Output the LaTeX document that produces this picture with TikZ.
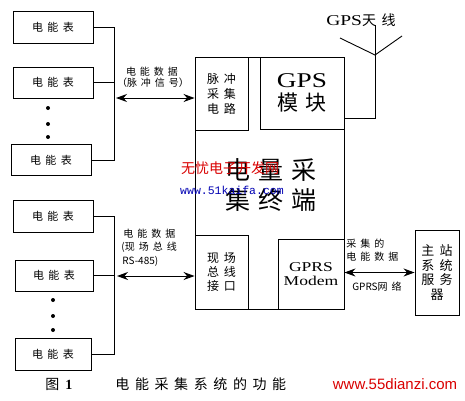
\documentclass[tikz,border=0pt]{standalone}
\usepackage{fontspec}
\setmainfont{Liberation Serif}
\newfontfamily\cjk{Noto Sans CJK SC}
\newfontfamily\wserif{Liberation Serif}[FakeStretch=1.3]
\newfontfamily\lsans{Liberation Sans}
\newfontfamily\lmono{Liberation Mono}
\usetikzlibrary{arrows.meta}
\newcommand\cgap{\hspace{0.4em}}
\newcommand\fs[1]{\fontsize{#1}{#1}\selectfont}
\begin{document}
\begin{tikzpicture}[x=1pt,y=-1pt,line width=0.9pt,
  box/.style={draw,rectangle,inner sep=0pt,align=center},
  meter/.style={box,font=\cjk\fs{11}},
  lbl/.style={inner sep=0pt,font=\cjk\fs{10}},
  dbl/.style={{Stealth[length=11pt,width=8pt]}-{Stealth[length=11pt,width=8pt]}},
  dot/.style={circle,fill,inner sep=0pt,minimum size=4pt}]
\useasboundingbox (0,0) rectangle (465,400);
% top-left meters
\node[meter,minimum width=80,minimum height=32] (m1) at (53,27) {电\cgap 能\cgap 表};
\node[meter,minimum width=80,minimum height=31] (m2) at (53,82.5) {电\cgap 能\cgap 表};
\node[meter,minimum width=80,minimum height=31] (m3) at (51,160) {电\cgap 能\cgap 表};
\node[dot] (d1) at (48,108) {};
\node[dot] (d2) at (48,124) {};
\node[dot] (d3) at (48,137) {};
\coordinate (b1) at (114,27);
\coordinate (b3) at (114,160);
\draw (m1.east) -- (b1) -- (b3) -- (m3.east);
\draw (m2.east) -- (m2.east -| b1);
% bottom-left meters
\node[meter,minimum width=80,minimum height=32] (n1) at (53,216) {电\cgap 能\cgap 表};
\node[meter,minimum width=78,minimum height=31] (n2) at (54,275.5) {电\cgap 能\cgap 表};
\node[meter,minimum width=76,minimum height=32] (n3) at (53,354) {电\cgap 能\cgap 表};
\node[dot] (e1) at (53,300) {};
\node[dot] (e2) at (53,316) {};
\node[dot] (e3) at (53,330) {};
\coordinate (c1) at (114,216);
\coordinate (c3) at (114,354);
\draw (n1.east) -- (c1) -- (c3) -- (n3.east);
\draw (n2.east) -- (n2.east -| c1);
% main terminal
\node[box,minimum width=149,minimum height=252] (main) at (269.5,183) {};
\node[box,minimum width=53,minimum height=73,font=\cjk\fs{12},
  execute at begin node=\setlength{\baselineskip}{15pt}] (pulse) at (221.5,93.5)
  {脉\cgap 冲\\采\cgap 集\\电\cgap 路};
\node[box,minimum width=84,minimum height=72] (gps) at (302,93)
  {{\wserif\fs{21}GPS}\\[4pt]{\cjk\fs{21}模\hspace{8pt}块}};
\node[box,minimum width=53,minimum height=74,font=\cjk\fs{12},
  execute at begin node=\setlength{\baselineskip}{14pt}] (field) at (221.5,272)
  {现\cgap 场\\总\cgap 线\\接\cgap 口};
\node[box,minimum width=66,minimum height=70,font=\wserif\fs{13.5},
  execute at begin node=\setlength{\baselineskip}{14pt}] (gprs) at (311,274)
  {GPRS\\Modem};
\node[inner sep=0pt,align=center,font=\cjk\fs{25},
  execute at begin node=\setlength{\baselineskip}{30pt}] (term) at (271,185)
  {电\hspace{8pt}量\hspace{8pt}采\\集\hspace{8pt}终\hspace{8pt}端};
% watermark
\node[inner sep=0pt,font=\cjk\fs{14},text=red!85!black] (wm1) at (230,168) {无忧电子开发网};
\node[inner sep=0pt,font=\lmono\fs{11.5},text=blue!70!black] (wm2) at (232,190) {www.51kaifa.com};
% master station
\node[box,minimum width=44,minimum height=85,font=\cjk\fs{13},
  execute at begin node=\setlength{\baselineskip}{14.7pt}] (master) at (437,272.5)
  {主\cgap 站\\系\cgap 统\\服\cgap 务\\器};
% arrows
\coordinate (a1) at (116,98);
\draw[dbl] (a1) -- (a1 -| pulse.west);
\coordinate (a2) at (117,276);
\draw[dbl] (a2) -- (a2 -| field.west);
\draw[dbl] (gprs.east |- master.west) -- (master.west);
% labels
\node[lbl] (l1) at (152,72) {电\cgap 能\cgap 数\cgap 据};
\node[lbl] (l2) at (153,83) {（脉\cgap 冲\cgap 信\cgap 号）};
\node[lbl,anchor=west] (l3) at (123,234) {电\cgap 能\cgap 数\cgap 据};
\node[lbl,anchor=west] (l4) at (121,247) {(现\cgap 场\cgap 总\cgap 线};
\node[lbl,anchor=west] (l5) at (122,261) {RS-485)};
\node[lbl,anchor=west] (l6) at (346,244) {采\cgap 集\cgap 的};
\node[lbl,anchor=west] (l7) at (346,257) {电\cgap 能\cgap 数\cgap 据};
\node[lbl] (l8) at (377,287) {GPRS网\cgap 络};
% antenna
\node[inner sep=0pt] (antl) at (361,20) {{\wserif\fs{15}GPS}{\cjk\fs{14}天\cgap 线}};
\coordinate (ant) at (375,55);
\coordinate (g1) at (344,118);
\draw (g1) -- (g1 -| ant) -- (375,25);
\draw (340,38) -- (ant) -- (402,36);
% caption
\node[inner sep=0pt,anchor=west] (cap1) at (45,384) {{\cjk\fs{14}图}\hspace{6pt}{\bfseries\fs{14}1}};
\node[inner sep=0pt,anchor=west,font=\cjk\fs{14}] (cap2) at (115,384)
  {电\cgap 能\cgap 采\cgap 集\cgap 系\cgap 统\cgap 的\cgap 功\cgap 能};
\node[inner sep=0pt,font=\lsans\fs{15},text=red!85!black] (wm3) at (395,384) {www.55dianzi.com};
\end{tikzpicture}
\end{document}
